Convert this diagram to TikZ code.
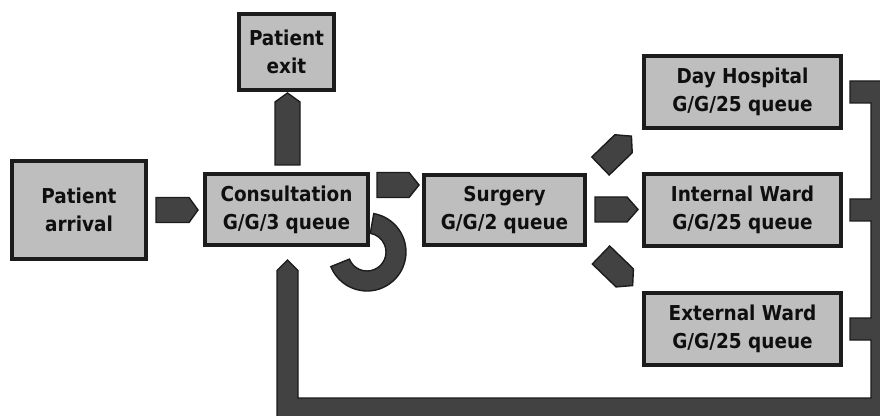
\documentclass[tikz,border=0pt]{standalone}
\usepackage{fontspec}
\setmainfont{DejaVu Sans Condensed}
\usepackage{tikz}
\usetikzlibrary{calc,backgrounds}
\definecolor{boxgray}{RGB}{190,190,190}
\definecolor{boxline}{RGB}{28,28,28}
\definecolor{arrgray}{RGB}{66,66,66}
\definecolor{txtblack}{RGB}{15,15,15}
% dicker Pfeil: Start, Winkel, Laenge, Spitze
\newcommand{\fatarrow}[4]{%
  \draw[fatarr,shift={#1},rotate=#2] (0,-12.5) -- ({#3-#4},-12.5) -- (#3,0) -- ({#3-#4},12.5) -- (0,12.5) -- cycle;}

\begin{document}
\begin{tikzpicture}[
x=1pt, y=1pt,
box/.style={draw=boxline, line width=4pt, fill=boxgray, text=txtblack, align=center,
  inner sep=0pt, font=\bfseries\fontsize{20.5}{28}\selectfont},
fatarr/.style={draw=boxline, line width=1.4pt, fill=arrgray, line join=miter}
]
\clip (0,0) rectangle (880,415);

% Stationen
\node[box, minimum width=134, minimum height=98] (arrival) at (79,205) {Patient\\arrival};
\node[box, minimum width=163, minimum height=71] (cons) at (286.5,205) {Consultation\\G/G/3 queue};
\node[box, minimum width=95, minimum height=76] (exit) at (286.5,363) {Patient\\exit};
\node[box, minimum width=161, minimum height=70] (surg) at (504.5,205) {Surgery\\G/G/2 queue};
\node[box, minimum width=197, minimum height=72] (day) at (742.5,323) {Day Hospital\\G/G/25 queue};
\node[box, minimum width=197, minimum height=72] (int) at (742.5,205) {Internal Ward\\G/G/25 queue};
\node[box, minimum width=197, minimum height=72] (ext) at (742.5,86) {External Ward\\G/G/25 queue};

% Pfeile zwischen den Stationen
\fatarrow{($(arrival.east)+(8,0)$)}{0}{42}{9}
\fatarrow{($(cons.east)+(7,25)$)}{0}{42}{10}
\fatarrow{($(cons.north)+(1,7.5)$)}{90}{72}{9}
\fatarrow{($(surg.east)+(8,0.5)$)}{0}{43}{11}
\fatarrow{($(surg.east)+(13.5,44)$)}{44}{43}{11}
\fatarrow{($(surg.east)+(14,-45)$)}{-44}{44}{11}

% Schleife an der Konsultation
\begin{scope}[on background layer]
\coordinate (loopc) at ($(cons.south east)+(-3,-4.5)$);
\draw[fatarr] ($(loopc)+(80:39)$) arc[start angle=80, end angle=-158, radius=39]
  -- ($(loopc)+(-158:19)$) arc[start angle=-158, end angle=80, radius=19] -- cycle;
\end{scope}

% Rueckfuehrung von den Stationen
\coordinate (rtip) at ($(cons.south)+(1,-12.5)$);
\coordinate (bot) at (0,17);
\coordinate (botout) at (0,-20);
\coordinate (bandin) at (871,0);
\coordinate (stub) at (850,0);
\coordinate (out) at (900,0);
\path (rtip) ++(10.5,-10.5) coordinate (rsr) ++(-21,0) coordinate (rsl);
\draw[fatarr] (rtip) -- (rsr) -- (rsr |- bot) -- (bandin |- bot)
  \foreach \w in {ext,int,day} {
    -- ($(bandin |- \w.east)+(0,-11)$) -- ($(stub |- \w.east)+(0,-11)$)
    -- ($(stub |- \w.east)+(0,11)$) -- ($(bandin |- \w.east)+(0,11)$) }
  -- ($(out |- day.east)+(0,11)$) -- (out |- botout) -- (rsl |- botout) -- (rsl) -- cycle;
\end{tikzpicture}
\end{document}
